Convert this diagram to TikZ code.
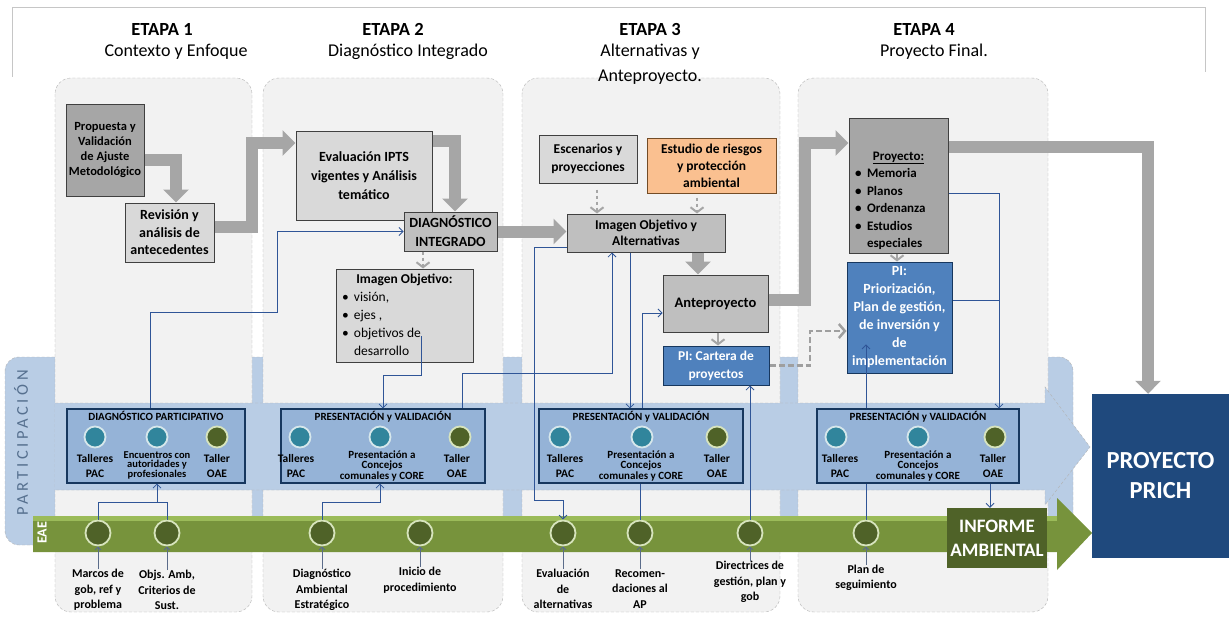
\documentclass[tikz,border=0pt]{standalone}
\usepackage{fontspec}
\setmainfont{Carlito}
\usetikzlibrary{arrows.meta}
\newcommand{\fsz}[2]{\fontsize{#1}{#2}\selectfont}
\definecolor{panelgray}{HTML}{F2F2F2}
\definecolor{bandblue}{HTML}{B9CDE5}
\definecolor{boxblue}{HTML}{95B3D7}
\definecolor{navy}{HTML}{17375E}
\definecolor{tealdot}{HTML}{31859C}
\definecolor{eaedark}{HTML}{4F6228}
\definecolor{lightgreen}{HTML}{D7E4BD}
\definecolor{eaegreen}{HTML}{77933C}
\definecolor{eaelight}{HTML}{9BBB59}
\definecolor{gray1}{HTML}{A6A6A6}
\definecolor{gray2}{HTML}{BFBFBF}
\definecolor{gray3}{HTML}{D9D9D9}
\definecolor{orangebox}{HTML}{FAC090}
\definecolor{piblue}{HTML}{4F81BD}
\definecolor{prichblue}{HTML}{1F497D}
\definecolor{linkblue}{HTML}{2F5597}
\definecolor{parttext}{HTML}{56708F}
\begin{document}
\begin{tikzpicture}[x=1pt,y=-1pt,
panel/.style={fill=panelgray,draw=gray!60,densely dashed,rounded corners=16pt},
gbox/.style={draw=black!75,line width=1pt,inner sep=0pt,align=center,font=\bfseries\fsz{13.5}{18}},
pibox/.style={gbox,fill=piblue,draw=navy,text=white},
pbox/.style={fill=boxblue,draw=navy,line width=1.2pt,inner sep=0pt},
ptitle/.style={anchor=north,inner sep=3pt,font=\bfseries\fsz{11}{12}},
tdot/.style={circle,fill=tealdot,draw=white!80!tealdot,line width=1.8pt,minimum size=21pt,inner sep=0pt},
odot/.style={tdot,fill=eaedark,draw=lightgreen},
edot/.style={odot,minimum size=25pt},
plabel/.style={align=center,inner sep=0pt,font=\bfseries\fsz{11.5}{15.5}},
pplabel/.style={plabel,font=\bfseries\fsz{11}{10.5}},
elabel/.style={align=center,inner sep=0pt,font=\bfseries\fsz{12}{15.5}},
bigarr/.style={draw=gray1,line width=12pt,-{Triangle[length=13pt,width=25pt]}},
smallarr/.style={draw=gray1,line width=2pt,-{Straight Barb[length=5pt,width=13pt]}},
dasharr/.style={draw=gray!75,line width=2.5pt,dash pattern=on 6pt off 3pt,-{Straight Barb[length=6pt,width=14pt]}},
link/.style={draw=linkblue,line width=0.8pt,-{Straight Barb[length=4pt,width=8pt]}},
linkp/.style={draw=linkblue,line width=0.8pt},
uparr/.style={draw=linkblue!45!gray,line width=0.8pt,-{Straight Barb[length=3pt,width=6pt]}}]
\useasboundingbox (0,0) rectangle (1229,618);

% frame, participation band and stage panels
\draw[gray!45] (12,77) -- (12,7) -- (1205,7) -- (1205,72);
\draw[fill=bandblue,draw=gray!60,densely dashed,rounded corners=14pt] (5,357) rectangle (1073,545);
\draw[panel] (55,78) rectangle (252,612);
\draw[panel] (263,78) rectangle (503,612);
\draw[panel] (522,78) rectangle (780,612);
\draw[panel] (798,78) rectangle (1048,612);
\fill[bandblue] (55,403) -- (1045,403) -- (1045,387) -- (1090,447) -- (1045,505) -- (1045,490) -- (55,490) -- cycle;
\draw[gray!60,densely dashed] (55,403) -- (1045,403) -- (1045,387) -- (1090,447) -- (1045,505) -- (1045,490) -- (55,490);
\node[rotate=90,text=parttext,font=\fsz{16.5}{18}\addfontfeature{LetterSpace=22}] (part) at(21,443){PARTICIPACIÓN};

% EAE arrow
\fill[eaegreen] (33,516) -- (1057,516) -- (1057,498) -- (1092,533) -- (1057,570) -- (1057,552) -- (33,552) -- cycle;
\fill[eaelight] (33,516) rectangle (1057,521);
\node[rotate=90,text=white,font=\bfseries\fsz{14}{16}] (eae) at(42,533){EAE};

% headers
\node[font=\bfseries\fsz{18.5}{22}] (et1) at(162,29){ETAPA 1};
\node[font=\fsz{18}{22}] (st1) at(176,52){Contexto y Enfoque};
\node[font=\bfseries\fsz{18.5}{22}] (et2) at(393,29){ETAPA 2};
\node[font=\fsz{18}{22}] (st2) at(408,52){Diagnóstico Integrado};
\node[font=\bfseries\fsz{18.5}{22}] (et3) at(650,29){ETAPA 3};
\node[font=\fsz{18}{25},align=center] (st3) at(650,64.5){Alternativas y\\Anteproyecto.};
\node[font=\bfseries\fsz{18.5}{22}] (et4) at(924,29){ETAPA 4};
\node[font=\fsz{18}{22}] (st4) at(934,52){Proyecto Final.};

% stage boxes
\node[gbox,fill=gray1,minimum width=78pt,minimum height=92pt,font=\bfseries\fsz{12.5}{15}] (prop) at(105,150){Propuesta y\\Validación\\de Ajuste\\Metodológico};
\node[gbox,fill=gray3,minimum width=89pt,minimum height=59pt,font=\bfseries\fsz{14}{17.5}] (revi) at(169.5,232.5){Revisión y\\análisis de\\antecedentes};
\node[gbox,fill=gray3,minimum width=136pt,minimum height=89pt,font=\bfseries\fsz{14}{19}] (eval) at(364,175.5){Evaluación IPTS\\vigentes y Análisis\\temático};
\node[gbox,fill=gray2,minimum width=93pt,minimum height=39pt,font=\bfseries\fsz{14}{19}] (diag) at(450.5,231.5){DIAGNÓSTICO\\INTEGRADO};
\node[gbox,fill=gray3,minimum width=137pt,minimum height=93pt,font=\fsz{13.5}{18}] (imob) at(404.5,315.5){\begin{tabular}{@{}p{12pt}@{}p{113pt}@{}}\multicolumn{2}{@{}c@{}}{\bfseries Imagen Objetivo:}\\ \textbullet & visión,\\ \textbullet & ejes ,\\ \textbullet & objetivos de\\ & desarrollo\end{tabular}};
\node[gbox,fill=gray3,minimum width=98pt,minimum height=48pt] (esce) at(588,159){Escenarios y\\proyecciones};
\node[gbox,fill=orangebox,draw=brown!60!black,minimum width=129pt,minimum height=55pt,font=\bfseries\fsz{13.5}{17}] (estu) at(711.5,165.5){Estudio de riesgos\\y protección\\ambiental};
\node[gbox,fill=gray2,minimum width=158pt,minimum height=38pt,font=\bfseries\fsz{13.5}{16.5}] (ioal) at(646,233){Imagen Objetivo y\\Alternativas};
\node[gbox,fill=gray2,minimum width=105pt,minimum height=57pt,font=\bfseries\fsz{14.5}{18}] (ante) at(715.5,303.5){Anteproyecto};
\node[pibox,minimum width=106pt,minimum height=39pt] (cart) at(716,365.5){PI: Cartera de\\proyectos};
\node[gbox,fill=gray1,minimum width=99pt,minimum height=135pt,font=\bfseries\fsz{13}{17.5}] (proy) at(898.5,185.5){\begin{tabular}{@{}p{12pt}@{}p{75pt}@{}}\multicolumn{2}{@{}c@{}}{\rule{0pt}{42pt}\underline{Proyecto:}}\\ \textbullet & Memoria\\ \textbullet & Planos\\ \textbullet & Ordenanza\\ \textbullet & Estudios\\ & especiales\end{tabular}};
\node[pibox,minimum width=105pt,minimum height=111pt,font=\bfseries\fsz{14}{18}] (prio) at(899.5,317.5){PI:\\Priorización,\\Plan de gestión,\\de inversión y\\de\\implementación};
\node[fill=prichblue,text=white,minimum width=137pt,minimum height=164pt,inner sep=0pt,align=center,font=\bfseries\fsz{24.5}{30}] (prich) at(1160.5,476){PROYECTO\\PRICH};
\node[fill=eaedark,text=white,minimum width=100pt,minimum height=60pt,inner sep=0pt,align=center,font=\bfseries\fsz{19}{24}] (info) at(997,538){INFORME\\AMBIENTAL};

% participation boxes
\node[pbox,minimum width=178pt,minimum height=74pt,label={[ptitle]north:DIAGNÓSTICO PARTICIPATIVO}] (pb1) at(156,446){};
\node[tdot] (c11) at(95,437){};
\node[tdot] (c12) at(157,437){};
\node[odot] (c13) at(217,437){};
\node[plabel] (t11) at(95,466){Talleres\\PAC};
\node[plabel,font=\bfseries\fsz{10.5}{9.5}] (t12) at(157,465){Encuentros con\\autoridades y\\profesionales};
\node[plabel] (t13) at(217,466){Taller\\OAE};

\node[pbox,minimum width=204pt,minimum height=74pt,label={[ptitle]north:PRESENTACIÓN y VALIDACIÓN}] (pb2) at(383,446){};
\node[tdot] (c21) at(300,437){};
\node[tdot] (c22) at(380,437){};
\node[odot] (c23) at(460,437){};
\node[plabel] (t21) at(296,466){Talleres\\PAC};
\node[pplabel] (t22) at(382,466){Presentación a\\Concejos\\comunales y CORE};
\node[plabel] (t23) at(457,466){Taller\\OAE};

\node[pbox,minimum width=204pt,minimum height=74pt,label={[ptitle]north:PRESENTACIÓN y VALIDACIÓN}] (pb3) at(641,446){};
\node[tdot] (c31) at(560,437){};
\node[tdot] (c32) at(642,437){};
\node[odot] (c33) at(717,437){};
\node[plabel] (t31) at(565,466){Talleres\\PAC};
\node[pplabel] (t32) at(641,466){Presentación a\\Concejos\\comunales y CORE};
\node[plabel] (t33) at(717,466){Taller\\OAE};

\node[pbox,minimum width=202pt,minimum height=74pt,label={[ptitle]north:PRESENTACIÓN y VALIDACIÓN}] (pb4) at(918,446){};
\node[tdot] (c41) at(836,437){};
\node[tdot] (c42) at(918,437){};
\node[odot] (c43) at(995,437){};
\node[plabel] (t41) at(840,466){Talleres\\PAC};
\node[pplabel] (t42) at(918,466){Presentación a\\Concejos\\comunales y CORE};
\node[plabel] (t43) at(993,466){Taller\\OAE};

% EAE milestones
\node[edot] (e1) at(98,533){};
\node[edot] (e2) at(167,533){};
\node[edot] (e3) at(322,533){};
\node[edot] (e4) at(420,533){};
\node[edot] (e5) at(563,533){};
\node[edot] (e6) at(640,533){};
\node[edot] (e7) at(750,533){};
\node[edot] (e8) at(866,533){};
\node[elabel] (l1) at(98,590){Marcos de\\gob, ref y\\problema};
\node[elabel] (l2) at(167,590){Objs. Amb,\\Criterios de\\Sust.};
\node[elabel] (l3) at(322,590){Diagnóstico\\Ambiental\\Estratégico};
\node[elabel] (l4) at(420,580){Inicio de\\procedimiento};
\node[elabel] (l5) at(563,589){Evaluación\\de\\alternativas};
\node[elabel] (l6) at(640,589){Recomen-\\daciones al\\AP};
\node[elabel] (l7) at(750,582){Directrices de\\gestión, plan y\\gob};
\node[elabel] (l8) at(866,578){Plan de\\seguimiento};
\draw[uparr] (l1.north) -- (e1.south);
\draw[uparr] (l2.north) -- (e2.south);
\draw[uparr] (l3.north) -- (e3.south);
\draw[uparr] (l4.north) -- (e4.south);
\draw[uparr] (l5.north) -- (e5.south);
\draw[uparr] (l6.north) -- (e6.south);
\draw[uparr] (l7.north) -- (e7.south);
\draw[uparr] (l8.north) -- (e8.south);

% main flow
\draw[bigarr] ([yshift=-10pt]prop.east) -| ([xshift=6.5pt]revi.north);
\draw[bigarr] ([yshift=5.5pt]revi.east) -- (252,227) |- ([yshift=32.5pt]eval.west);
\draw[bigarr] ([yshift=34.5pt]eval.east) -| ([xshift=4.5pt]diag.north);
\draw[bigarr] (diag.east) -- (diag.east -| ioal.west);
\draw[bigarr] ([xshift=52pt]ioal.south) -- ([xshift=-17.5pt]ante.north);
\draw[bigarr] ([yshift=3.5pt]ante.east) -- (805,300) |- ([yshift=42.5pt]proy.west);
\draw[bigarr] ([yshift=38.5pt]proy.east) -| ([xshift=-12.5pt]prich.north);
\draw[smallarr,dashed] ([xshift=-27.5pt]diag.south) -- ([xshift=18.5pt]imob.north);
\draw[smallarr,dashed,shorten <=6pt] ([xshift=9pt]esce.south) -- ([xshift=-49pt]ioal.north);
\draw[smallarr,dashed,shorten <=4pt] ([xshift=-14.5pt]estu.south) -- ([xshift=51pt]ioal.north);
\draw[smallarr] ([xshift=2.5pt]ante.south) -- ([xshift=2pt]cart.north);
\draw[smallarr] ([xshift=-1.5pt]proy.south) -- ([xshift=-2.5pt]prio.north);
\draw[dasharr] (cart.east) -- (810,365.5) |- ([yshift=-13.5pt]prio.west);

% participation links
\draw[link] ([xshift=-6pt]pb1.north) |- (277,312) |- (diag.west);
\draw[link] ([xshift=16.5pt,yshift=-20.5pt]imob.center) |- (383,375) -- (pb2.north);
\draw[link] ([xshift=79pt]pb2.north) |- (612,373) -- ([xshift=-34pt]ioal.south);
\draw[link] ([yshift=-14pt]ioal.west) -| (534,500) -| (e5.north);
\draw[link] ([xshift=-16pt]ioal.south) -- ([xshift=-11pt]pb3.north);
\draw[link] ([xshift=1pt]pb3.north) |- ([yshift=-9.5pt]ante.west);
\draw[linkp] (e6.north) -- (e6.north |- pb3.south);
\draw[link] (e7.north) -- (e7.north |- cart.south);
\draw[link] ([yshift=-7.5pt]proy.east) -| ([xshift=81pt]pb4.north);
\draw[linkp] ([yshift=17.5pt]prio.east) -- ++(47,0);
\draw[link] ([xshift=-52pt]pb4.north) -- ++(0,-64);
\draw[linkp] (e8.north) -- (e8.north |- pb4.south);
\draw[link] ([xshift=72pt]pb4.south) -- ([xshift=-7pt]info.north);
\draw[linkp] (e1.north) |- (167,502) -- (e2.north);
\draw[link] (157,502) -- ([xshift=1pt]pb1.south);
\draw[link] (e3.north) |- (380,502) -- ([xshift=-3pt]pb2.south);
\end{tikzpicture}
\end{document}
